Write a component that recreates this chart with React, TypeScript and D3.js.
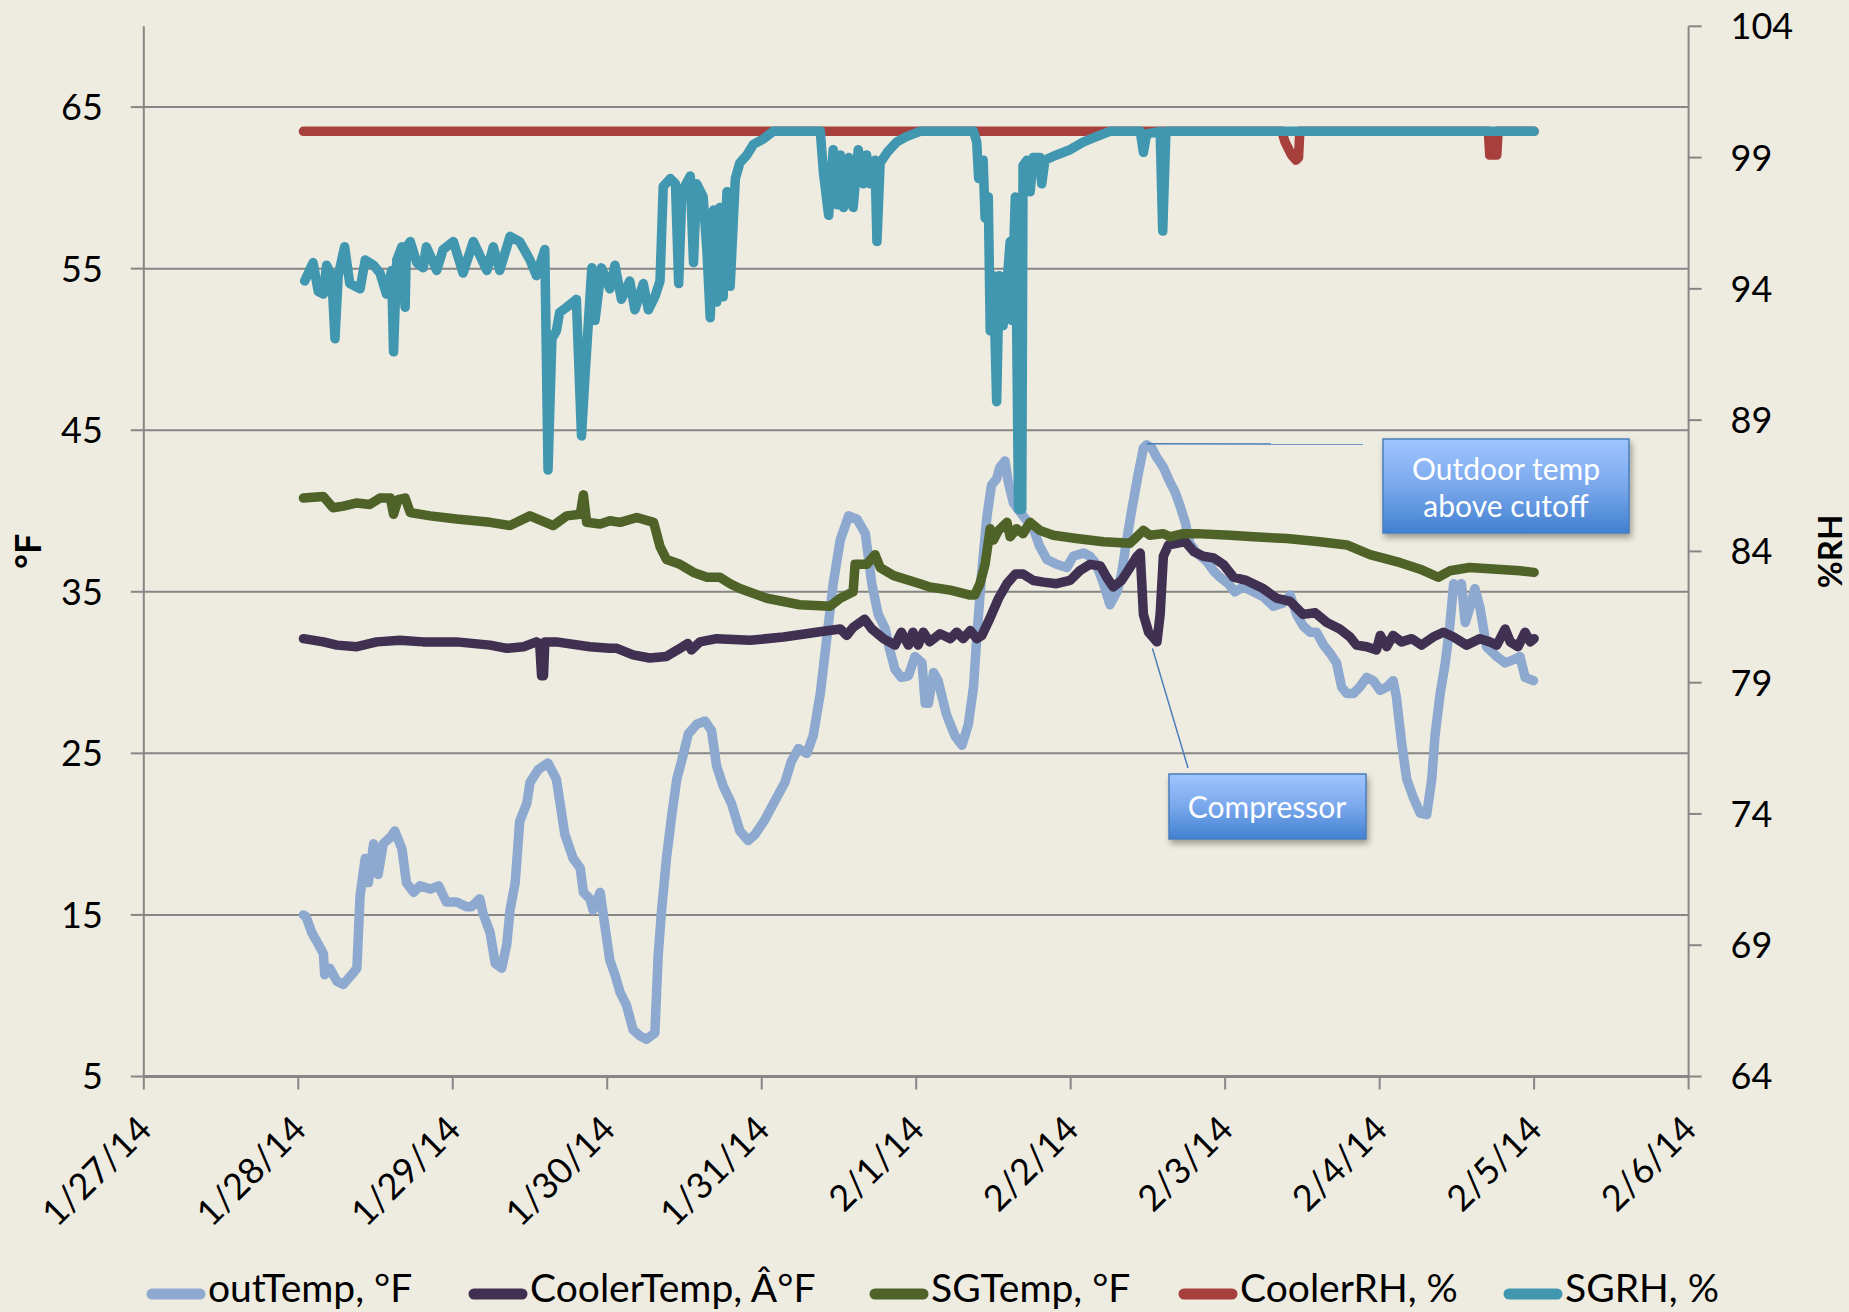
import React from 'react';
import * as d3 from 'd3';

// readings: [hours since 1/28/14 00:00, value]
const outTemp: [number, number][] = [
  [0.8, 15.0], [1.2, 14.9], [2.1, 13.9], [3.1, 13.2], [3.9, 12.6], [4.1, 11.3], [4.9, 11.7], [6.0, 10.9],
  [7.0, 10.7], [8.3, 11.3], [9.1, 11.7], [9.6, 16.2], [10.4, 18.5], [10.9, 17.0], [11.7, 19.4], [12.4, 17.5],
  [13.2, 19.4], [14.3, 19.8], [15.0, 20.2], [16.1, 19.1], [16.8, 17.0], [17.9, 16.4], [18.9, 16.8], [20.5, 16.6],
  [21.8, 16.8], [23.0, 15.8], [24.6, 15.8], [26.2, 15.5], [26.9, 15.5], [28.2, 16.0], [28.7, 15.1], [29.8, 13.9],
  [30.6, 12.0], [31.6, 11.7], [32.4, 13.2], [32.9, 15.3], [33.7, 17.0], [34.4, 20.8], [35.5, 21.9], [36.0, 23.2],
  [37.3, 24.0], [38.8, 24.4], [40.1, 23.4], [41.4, 20.0], [42.7, 18.5], [43.8, 17.9], [44.3, 16.4], [45.3, 16.0],
  [45.8, 15.3], [46.9, 16.4], [47.6, 14.4], [48.4, 12.2], [49.2, 11.3], [50.0, 10.2], [51.0, 9.4], [52.0, 7.9],
  [53.1, 7.5], [54.1, 7.3], [55.4, 7.7], [55.9, 12.4], [56.4, 15.1], [57.2, 18.5], [58.0, 21.1], [58.8, 23.4],
  [59.8, 24.9], [60.6, 26.2], [61.9, 26.8], [63.2, 27.0], [64.2, 26.4], [65.0, 24.2], [66.0, 23.0], [67.3, 21.9],
  [68.6, 20.2], [69.9, 19.6], [71.0, 20.0], [72.5, 20.9], [74.1, 22.1], [75.6, 23.2], [76.6, 24.5], [77.7, 25.3],
  [79.0, 25.0], [80.0, 26.1], [81.1, 28.7], [82.1, 32.1], [83.1, 35.5], [84.2, 38.2], [85.5, 39.7], [86.8, 39.5],
  [88.1, 38.6], [89.1, 35.5], [90.1, 33.6], [91.2, 32.7], [91.9, 31.4], [92.7, 30.2], [93.7, 29.7], [94.8, 29.8],
  [95.8, 31.0], [96.9, 30.6], [97.4, 28.1], [97.9, 28.1], [98.7, 30.0], [99.4, 29.5], [100.7, 27.4], [102.0, 26.1],
  [103.1, 25.5], [104.1, 26.8], [104.9, 29.1], [105.4, 32.1], [106.2, 36.3], [107.0, 39.7], [107.7, 41.6], [108.5, 42.0],
  [109.0, 42.7], [109.8, 43.1], [110.3, 41.8], [111.1, 40.5], [112.6, 39.7], [114.2, 38.9], [115.2, 37.8], [116.3, 37.0],
  [117.8, 36.7], [119.4, 36.5], [120.4, 37.2], [122.0, 37.4], [123.0, 37.2], [124.0, 36.7], [125.1, 35.5], [126.1, 34.2],
  [127.2, 35.0], [127.9, 36.1], [128.7, 38.2], [129.5, 40.1], [130.5, 42.3], [131.3, 43.9], [131.8, 44.1], [132.6, 43.9],
  [133.4, 43.3], [134.4, 42.7], [135.4, 41.8], [136.2, 41.2], [137.0, 40.3], [137.8, 39.3], [138.5, 38.0], [139.6, 37.4],
  [141.1, 36.9], [142.2, 36.3], [143.2, 35.9], [144.5, 35.5], [145.5, 35.0], [146.8, 35.3], [148.4, 35.0], [149.9, 34.7],
  [151.5, 34.1], [153.0, 34.3], [154.1, 34.8], [155.1, 33.6], [156.1, 32.9], [157.2, 32.5], [158.2, 32.5], [159.3, 31.7],
  [160.3, 31.2], [161.3, 30.6], [162.1, 29.1], [162.9, 28.7], [163.9, 28.7], [164.9, 29.1], [166.0, 29.7], [167.0, 29.5],
  [168.1, 28.9], [169.1, 29.1], [170.1, 29.5], [170.6, 28.5], [171.4, 25.7], [172.2, 23.4], [173.2, 22.3], [174.3, 21.3],
  [175.3, 21.2], [176.1, 23.4], [176.6, 26.1], [177.4, 28.7], [178.2, 30.6], [178.9, 32.9], [179.5, 35.5], [180.2, 35.2],
  [180.7, 35.5], [181.3, 33.1], [182.0, 34.0], [182.8, 35.2], [183.6, 34.0], [184.6, 31.6], [186.2, 31.0], [187.5, 30.6],
  [188.8, 30.8], [189.8, 31.0], [190.6, 29.7], [191.9, 29.5],
];

const coolerTemp: [number, number][] = [
  [0.8, 32.1], [3.9, 31.9], [6.0, 31.7], [9.1, 31.6], [12.2, 31.9], [15.8, 32.0], [19.4, 31.9], [24.6, 31.9],
  [29.8, 31.7], [32.4, 31.5], [35.0, 31.6], [37.0, 31.9], [37.5, 31.8], [37.8, 29.8], [38.1, 29.8], [38.3, 31.9],
  [40.1, 31.9], [45.3, 31.6], [48.4, 31.5], [49.5, 31.5], [52.0, 31.1], [54.6, 30.9], [57.2, 31.0], [59.3, 31.5],
  [60.5, 31.8], [61.1, 31.4], [62.4, 31.9], [65.0, 32.1], [70.2, 32.0], [75.4, 32.2], [80.5, 32.5], [84.2, 32.7],
  [85.2, 32.3], [86.2, 32.8], [88.0, 33.3], [89.1, 32.7], [90.9, 32.1], [92.7, 31.7], [93.7, 32.5], [94.8, 31.7],
  [95.5, 32.5], [96.3, 31.7], [97.1, 32.5], [98.1, 31.9], [99.7, 32.4], [101.3, 32.1], [102.3, 32.5], [103.3, 32.1],
  [104.4, 32.6], [105.4, 32.1], [106.2, 32.3], [107.5, 33.4], [108.8, 34.6], [110.1, 35.5], [111.4, 36.1], [112.6, 36.1],
  [114.2, 35.7], [115.8, 35.6], [117.8, 35.5], [119.9, 35.7], [121.4, 36.3], [123.0, 36.7], [124.6, 36.6], [125.6, 35.9],
  [126.6, 35.3], [127.9, 35.7], [129.2, 36.5], [130.3, 37.2], [130.8, 37.4], [131.3, 33.6], [132.1, 32.5], [133.4, 31.9],
  [133.9, 33.6], [134.4, 37.2], [135.2, 37.9], [136.5, 38.0], [137.8, 38.1], [139.1, 37.5], [140.6, 37.2], [142.2, 37.1],
  [143.7, 36.7], [145.3, 35.9], [147.3, 35.7], [149.9, 35.2], [152.0, 34.6], [154.1, 34.4], [156.1, 33.6], [158.0, 33.7],
  [159.8, 33.1], [161.8, 32.7], [163.4, 32.2], [164.4, 31.7], [166.0, 31.6], [167.5, 31.4], [168.1, 32.3], [169.1, 31.6],
  [170.1, 32.3], [171.4, 31.9], [173.0, 32.1], [174.5, 31.7], [176.3, 32.2], [177.9, 32.5], [179.5, 32.2], [181.5, 31.7],
  [183.6, 32.1], [185.1, 31.9], [186.2, 31.7], [187.5, 32.7], [188.3, 31.9], [189.5, 31.6], [190.6, 32.5], [191.4, 31.9],
  [192.0, 32.1],
];

const sgTemp: [number, number][] = [
  [0.8, 40.8], [3.9, 40.9], [5.4, 40.2], [7.0, 40.3], [9.1, 40.5], [11.1, 40.4], [12.7, 40.8], [14.3, 40.8],
  [14.8, 39.8], [15.5, 40.7], [16.6, 40.8], [17.4, 39.9], [20.5, 39.7], [24.6, 39.5], [29.8, 39.3], [32.9, 39.1],
  [36.0, 39.7], [39.6, 39.1], [41.7, 39.7], [43.8, 39.8], [44.3, 41.0], [44.8, 39.3], [46.9, 39.2], [48.4, 39.4],
  [50.0, 39.3], [52.6, 39.6], [55.2, 39.3], [56.2, 37.8], [57.2, 37.0], [59.3, 36.7], [61.4, 36.2], [63.5, 35.9],
  [65.5, 35.9], [67.1, 35.5], [68.6, 35.2], [72.8, 34.6], [77.9, 34.2], [82.6, 34.1], [84.2, 34.6], [86.2, 35.0],
  [86.5, 36.7], [88.3, 36.7], [89.6, 37.3], [90.4, 36.5], [92.5, 36.0], [96.6, 35.5], [98.1, 35.3], [101.3, 35.1],
  [104.4, 34.8], [105.1, 34.8], [105.9, 35.5], [106.7, 36.7], [107.5, 38.9], [108.0, 38.2], [108.8, 38.8], [110.1, 39.3],
  [110.6, 38.4], [111.6, 38.9], [112.6, 38.6], [113.7, 39.3], [115.2, 38.8], [117.3, 38.5], [120.9, 38.3], [125.1, 38.1],
  [129.2, 38.0], [131.3, 38.8], [132.3, 38.5], [134.4, 38.6], [135.4, 38.4], [137.5, 38.6], [139.6, 38.6], [144.8, 38.5],
  [148.4, 38.4], [153.6, 38.3], [158.7, 38.1], [162.9, 37.9], [166.5, 37.3], [171.2, 36.8], [174.3, 36.4], [177.1, 35.9],
  [178.9, 36.3], [182.0, 36.5], [186.2, 36.4], [189.8, 36.3], [192.0, 36.2],
];

const coolerRH: [number, number][] = [
  [0.8, 100], [152.8, 100], [153.3, 99.6], [154.3, 99.1], [155.0, 98.9], [155.4, 99.0], [155.6, 100],
  [184.9, 100], [185.1, 99.1], [186.2, 99.1], [186.4, 100], [192.0, 100],
];

const sgRH: [number, number][] = [
  [1.0, 94.3], [2.3, 95.0], [3.1, 93.9], [3.9, 93.8], [4.4, 94.9], [5.2, 94.5], [5.7, 92.1], [6.2, 94.5],
  [7.2, 95.6], [8.0, 94.2], [9.6, 94.0], [10.4, 95.1], [11.7, 94.9], [12.7, 94.6], [13.7, 93.8], [14.5, 94.7],
  [14.8, 91.6], [15.3, 95.1], [16.1, 95.6], [16.6, 93.3], [16.8, 95.6], [17.4, 95.8], [18.4, 95.0], [19.4, 94.8],
  [19.9, 95.6], [21.5, 94.7], [22.5, 95.5], [24.1, 95.8], [25.6, 94.6], [27.2, 95.8], [29.3, 94.7], [30.3, 95.6],
  [31.3, 94.7], [32.9, 96.0], [34.4, 95.8], [36.0, 95.1], [37.0, 94.5], [38.3, 95.5], [38.8, 87.1], [39.4, 92.1],
  [40.1, 92.4], [40.6, 93.1], [41.7, 93.3], [43.2, 93.6], [44.0, 88.4], [44.5, 90.5], [45.6, 94.8], [46.1, 92.8],
  [47.1, 94.8], [48.4, 94.0], [49.2, 94.9], [50.2, 93.6], [51.5, 94.3], [52.3, 93.2], [53.6, 94.2], [54.4, 93.2],
  [55.4, 93.7], [56.2, 94.3], [56.7, 97.9], [57.8, 98.2], [58.6, 98.0], [59.1, 94.2], [59.6, 97.7], [60.9, 98.3],
  [61.4, 95.0], [61.9, 98.0], [62.9, 97.5], [63.5, 95.4], [64.0, 92.9], [64.5, 97.0], [65.0, 93.5], [65.5, 97.1],
  [66.0, 93.7], [66.6, 97.7], [67.1, 94.1], [67.9, 98.2], [68.6, 98.8], [69.7, 99.1], [70.7, 99.5], [72.2, 99.7],
  [73.8, 100], [81.1, 100], [81.6, 98.4], [82.4, 96.8], [83.1, 99.3], [83.7, 97.2], [84.2, 99.1], [84.7, 97.1],
  [85.5, 99.0], [86.2, 97.1], [87.0, 99.3], [87.8, 98.0], [88.3, 99.1], [88.8, 98.0], [89.6, 98.9], [89.9, 95.8],
  [90.4, 98.8], [91.5, 99.2], [93.0, 99.6], [94.5, 99.8], [96.6, 100], [104.9, 100], [105.4, 99.6], [105.7, 98.2],
  [106.4, 98.9], [106.7, 96.7], [107.2, 97.5], [107.5, 92.4], [108.0, 94.5], [108.5, 89.7], [108.9, 94.5], [109.5, 92.6],
  [110.1, 94.2], [110.6, 95.8], [110.8, 92.8], [111.4, 97.5], [111.9, 85.6], [112.4, 85.6], [112.6, 98.7], [113.2, 98.9],
  [113.7, 97.7], [114.2, 99.0], [115.2, 99.0], [115.5, 98.0], [116.0, 98.9], [117.8, 99.1], [119.9, 99.3], [122.0, 99.6],
  [124.0, 99.8], [126.1, 100], [130.8, 100], [131.3, 99.2], [131.8, 99.9], [133.9, 100], [134.3, 96.2], [134.8, 100],
  [192.0, 100],
];

const leftTicks = [5, 15, 25, 35, 45, 55, 65];
const rightTicks = [64, 69, 74, 79, 84, 89, 94, 99, 104];

const seriesNames = ['outTemp, °F', 'CoolerTemp, Â°F', 'SGTemp, °F', 'CoolerRH, %', 'SGRH, %'];

const W = 1849;
const H = 1312;
const plot = { left: 143.8, right: 1688.6, top: 26.3, bottom: 1076.5 };
const FONT = "Lato, 'Open Sans', sans-serif";
const GRID = '#868686';

const t0 = new Date(2014, 0, 28).getTime();
const toDate = (h: number) => new Date(t0 + h * 3600 * 1000);

export default function App() {
  const x = d3.scaleTime()
    .domain([new Date(2014, 0, 27), new Date(2014, 1, 6)])
    .range([plot.left, plot.right]);
  const yL = d3.scaleLinear().domain([5, 70]).range([plot.bottom, plot.top]);
  const yR = d3.scaleLinear().domain([64, 104]).range([plot.bottom, plot.top]);

  const series = [
    { name: seriesNames[0], data: outTemp, color: '#8EA9CF', y: yL },
    { name: seriesNames[1], data: coolerTemp, color: '#403152', y: yL },
    { name: seriesNames[2], data: sgTemp, color: '#4F6228', y: yL },
    { name: seriesNames[3], data: coolerRH, color: '#A7403D', y: yR },
    { name: seriesNames[4], data: sgRH, color: '#4097AF', y: yR },
  ];

  const days = d3.timeDay.range(new Date(2014, 0, 27), new Date(2014, 1, 7));
  const fmt = d3.timeFormat('%-m/%-d/%y');

  // callouts anchored to data points
  const outdoorPt = { x: x(toDate(131.8)), y: yL(44.1) };
  const compPt = { x: x(toDate(132.7)), y: yL(31.5) };

  const legendX = [147, 469, 870, 1179, 1504];

  return (
    <svg width={W} height={H} style={{ position: 'absolute', left: 0, top: 0, fontFamily: FONT }}>
      <defs>
        <linearGradient id="boxGrad" x1="0" y1="0" x2="0" y2="1">
          <stop offset="0" stopColor="#A0C5FF" />
          <stop offset="0.5" stopColor="#7AA8EC" />
          <stop offset="1" stopColor="#4180D0" />
        </linearGradient>
        <filter id="shadow" x="-10%" y="-10%" width="130%" height="140%">
          <feDropShadow dx="2" dy="4" stdDeviation="3" floodColor="#000" floodOpacity="0.35" />
        </filter>
      </defs>
      <rect width={W} height={H} fill="#EEECE1" />

      {/* gridlines */}
      {leftTicks.slice(1).map(t => (
        <line key={t} x1={plot.left} x2={plot.right} y1={yL(t)} y2={yL(t)} stroke={GRID} strokeWidth={2} />
      ))}

      {/* left axis */}
      <line x1={plot.left} x2={plot.left} y1={plot.top} y2={plot.bottom} stroke={GRID} strokeWidth={2} />
      {leftTicks.map(t => (
        <g key={t}>
          <line x1={plot.left - 13} x2={plot.left} y1={yL(t)} y2={yL(t)} stroke={GRID} strokeWidth={2} />
          <text x={plot.left - 41} y={yL(t)} dy="0.36em" textAnchor="end" fontSize={36} fill="#000">{t}</text>
        </g>
      ))}

      {/* right axis */}
      <line x1={plot.right} x2={plot.right} y1={plot.top} y2={plot.bottom} stroke={GRID} strokeWidth={2} />
      {rightTicks.map(t => (
        <g key={t}>
          <line x1={plot.right} x2={plot.right + 13} y1={yR(t)} y2={yR(t)} stroke={GRID} strokeWidth={2} />
          <text x={plot.right + 42} y={yR(t)} dy="0.36em" textAnchor="start" fontSize={36} fill="#000">{t}</text>
        </g>
      ))}

      {/* x axis */}
      <line x1={plot.left} x2={plot.right} y1={plot.bottom} y2={plot.bottom} stroke={GRID} strokeWidth={3} />
      {days.map(d => (
        <g key={d.getTime()}>
          <line x1={x(d)} x2={x(d)} y1={plot.bottom} y2={plot.bottom + 13} stroke={GRID} strokeWidth={2} />
          <text transform={`translate(${x(d) + 10},${plot.bottom + 55}) rotate(-45)`} textAnchor="end" fontSize={36} fill="#000">
            {fmt(d)}
          </text>
        </g>
      ))}

      {/* axis titles */}
      <text transform={`translate(41,${(plot.top + plot.bottom) / 2}) rotate(-90)`} textAnchor="middle" fontSize={36} fontWeight="bold" fill="#000">°F</text>
      <text transform={`translate(1842,${(plot.top + plot.bottom) / 2}) rotate(-90)`} textAnchor="middle" fontSize={33} fontWeight="bold" fill="#000">%RH</text>

      {/* series */}
      {series.map(s => {
        const path = d3.line<[number, number]>()
          .x(d => x(toDate(d[0])))
          .y(d => s.y(d[1]))(s.data);
        return (
          <path key={s.name} d={path || ''} fill="none" stroke={s.color} strokeWidth={9.5}
            strokeLinejoin="round" strokeLinecap="round" />
        );
      })}

      {/* callouts */}
      <line x1={outdoorPt.x} y1={outdoorPt.y - 1} x2={1363} y2={444} stroke="#4A7EBB" strokeWidth={1.5} />
      <g filter="url(#shadow)">
        <rect x={1383} y={439} width={246} height={94} fill="url(#boxGrad)" stroke="#4A7EBB" strokeWidth={1.5} />
      </g>
      <text x={1506} y={480} textAnchor="middle" fontSize={30} fill="#fff">Outdoor temp</text>
      <text x={1506} y={517} textAnchor="middle" fontSize={30} fill="#fff">above cutoff</text>

      <line x1={compPt.x} y1={compPt.y} x2={1188} y2={768} stroke="#4A7EBB" strokeWidth={1.5} />
      <g filter="url(#shadow)">
        <rect x={1169} y={774} width={197} height={65} fill="url(#boxGrad)" stroke="#4A7EBB" strokeWidth={1.5} />
      </g>
      <text x={1267} y={818} textAnchor="middle" fontSize={30} fill="#fff">Compressor</text>

      {/* legend */}
      {series.map((s, i) => (
        <g key={s.name}>
          <line x1={legendX[i] + 5} x2={legendX[i] + 53} y1={1294} y2={1294} stroke={s.color} strokeWidth={11} strokeLinecap="round" />
          <text x={legendX[i] + 61} y={1302} fontSize={39} fill="#000">{s.name}</text>
        </g>
      ))}
    </svg>
  );
}
